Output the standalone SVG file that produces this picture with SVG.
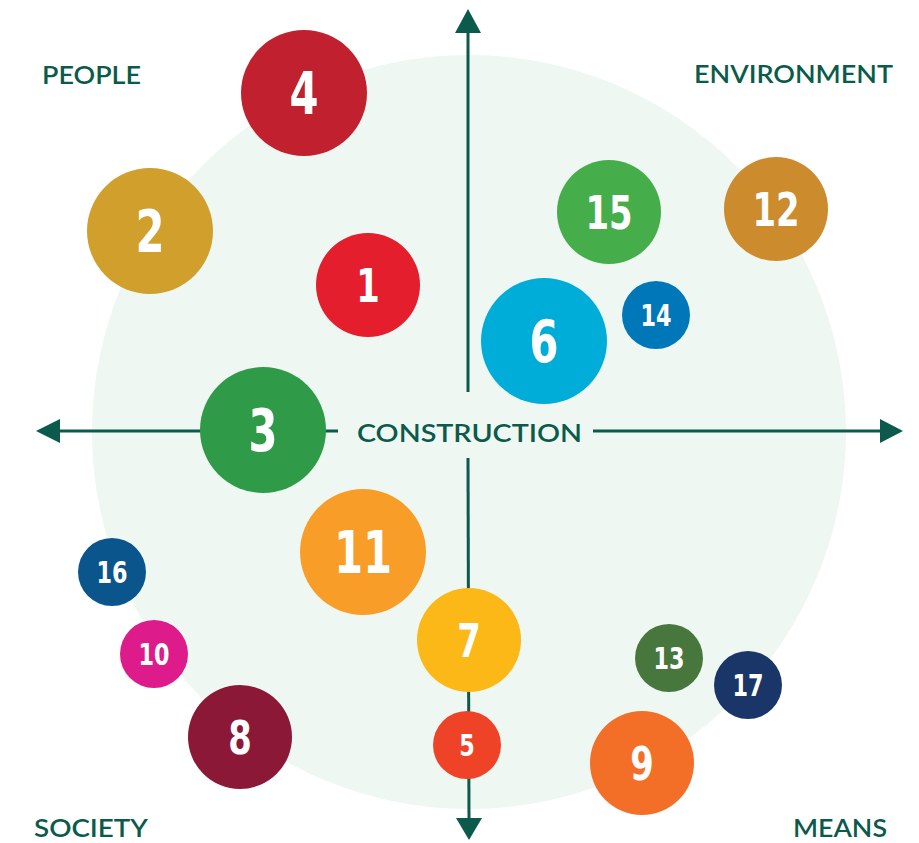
<svg xmlns="http://www.w3.org/2000/svg" width="919" height="843" viewBox="0 0 919 843">
<defs>
<style>
.axis{stroke:#0B5A4B;stroke-width:3;fill:none}
.head{fill:#0B5A4B}
.lbl{font-family:Lato,"Open Sans","Liberation Sans",sans-serif;font-weight:600;fill:#0B5A4B;font-size:25px}
.num{font-family:"DejaVu Sans","Liberation Sans",sans-serif;font-weight:bold;fill:#FFFFFF;text-anchor:middle}
.big{font-size:58px}
.mid{font-size:47px}
.sm{font-size:31px}
</style>
</defs>
<rect width="919" height="843" fill="#FFFFFF"/>
<circle id="background" cx="469" cy="432" r="377" fill="#EEF7F2"/>
<g id="connectors">
<line class="axis" x1="468" y1="30" x2="468" y2="392"/>
<line class="axis" x1="468" y1="458" x2="469" y2="820"/>
<line class="axis" x1="58" y1="431" x2="338" y2="431"/>
<line class="axis" x1="593" y1="431" x2="882" y2="431"/>
<polygon class="head" points="468,9 481,33 455,33"/>
<polygon class="head" points="469,840 482,818 456,818"/>
<polygon class="head" points="36,431 60,419 60,443"/>
<polygon class="head" points="903,431 880,419 880,443"/>
</g>
<g id="label-construction"><text class="lbl" x="357" y="442" textLength="225" lengthAdjust="spacingAndGlyphs">CONSTRUCTION</text></g>
<g id="label-people"><text class="lbl" x="42" y="84" textLength="99" lengthAdjust="spacingAndGlyphs">PEOPLE</text></g>
<g id="label-environment"><text class="lbl" x="694" y="83" textLength="199" lengthAdjust="spacingAndGlyphs">ENVIRONMENT</text></g>
<g id="label-society"><text class="lbl" x="34" y="837" textLength="114" lengthAdjust="spacingAndGlyphs">SOCIETY</text></g>
<g id="label-means"><text class="lbl" x="793" y="837" textLength="94" lengthAdjust="spacingAndGlyphs">MEANS</text></g>

<g id="sdg4"><circle cx="304" cy="93" r="63" fill="#C1212F"/><text class="num big" transform="translate(304,114) scale(0.72,1)">4</text></g>
<g id="sdg2"><circle cx="150" cy="231" r="63" fill="#D19F2C"/><text class="num big" transform="translate(150,252) scale(0.72,1)">2</text></g>
<g id="sdg1"><circle cx="368" cy="285" r="52" fill="#E41E2D"/><text class="num mid" transform="translate(368,302) scale(0.72,1)">1</text></g>
<g id="sdg15"><circle cx="609" cy="212" r="52" fill="#45AE4A"/><text class="num mid" transform="translate(609,229) scale(0.72,1)">15</text></g>
<g id="sdg12"><circle cx="776" cy="209" r="52" fill="#CC8B2C"/><text class="num mid" transform="translate(776,226) scale(0.72,1)">12</text></g>
<g id="sdg14"><circle cx="656" cy="315" r="34" fill="#0077B9"/><text class="num sm" transform="translate(656,326) scale(0.72,1)">14</text></g>
<g id="sdg6"><circle cx="544" cy="341" r="63" fill="#00ADD8"/><text class="num big" transform="translate(544,362) scale(0.72,1)">6</text></g>
<g id="sdg3"><circle cx="263" cy="430" r="63" fill="#2F9B48"/><text class="num big" transform="translate(263,451) scale(0.72,1)">3</text></g>
<g id="sdg11"><circle cx="363" cy="552" r="63" fill="#F99D29"/><text class="num big" transform="translate(363,573) scale(0.72,1)">11</text></g>
<g id="sdg16"><circle cx="112" cy="572" r="34" fill="#0A558C"/><text class="num sm" transform="translate(112,583) scale(0.72,1)">16</text></g>
<g id="sdg10"><circle cx="154" cy="654" r="34" fill="#DD1B8A"/><text class="num sm" transform="translate(154,665) scale(0.72,1)">10</text></g>
<g id="sdg7"><circle cx="469" cy="640" r="52" fill="#FBB817"/><text class="num mid" transform="translate(469,657) scale(0.72,1)">7</text></g>
<g id="sdg8"><circle cx="240" cy="737" r="52" fill="#8C1838"/><text class="num mid" transform="translate(240,754) scale(0.72,1)">8</text></g>
<g id="sdg5"><circle cx="467" cy="745" r="34" fill="#EE4327"/><text class="num sm" transform="translate(467,756) scale(0.72,1)">5</text></g>
<g id="sdg13"><circle cx="669" cy="658" r="34" fill="#48773E"/><text class="num sm" transform="translate(669,669) scale(0.72,1)">13</text></g>
<g id="sdg17"><circle cx="748" cy="685" r="34" fill="#1A3668"/><text class="num sm" transform="translate(748,696) scale(0.72,1)">17</text></g>
<g id="sdg9"><circle cx="642" cy="763" r="52" fill="#F36F27"/><text class="num mid" transform="translate(642,780) scale(0.72,1)">9</text></g>
</svg>
